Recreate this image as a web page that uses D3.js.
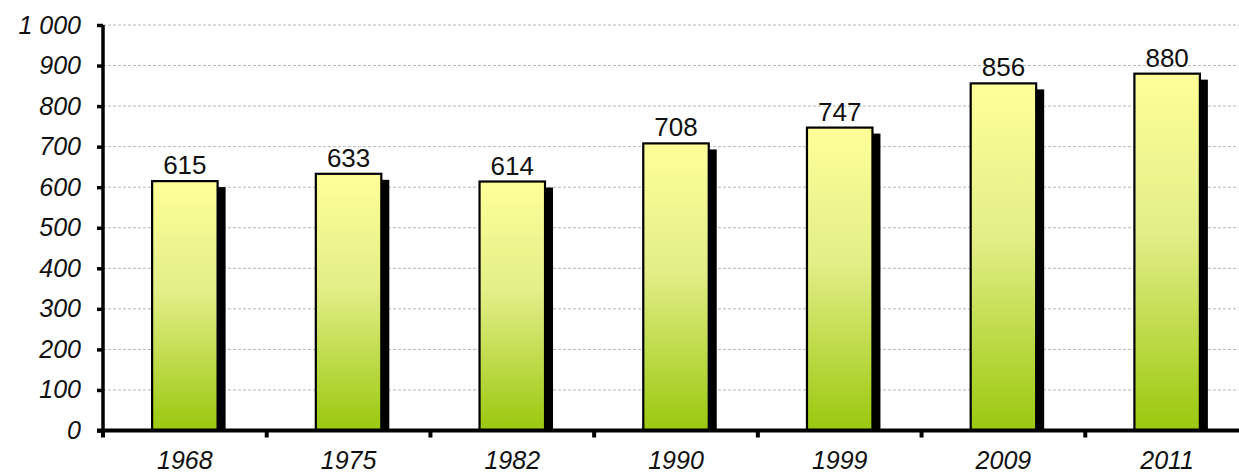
<!DOCTYPE html>
<html>
<head>
<meta charset="utf-8">
<script src="https://cdn.jsdelivr.net/npm/d3@7"></script>
<style>
  html, body { margin: 0; padding: 0; background: #fff; }
  svg { display: block; }
</style>
</head>
<body>
<svg id="chart" width="1239" height="475"></svg>
<script>
// Census years and population counts
const years = ["1968", "1975", "1982", "1990", "1999", "2009", "2011"];
const values = [615, 633, 614, 708, 747, 856, 880];
const yTicks = [0, 100, 200, 300, 400, 500, 600, 700, 800, 900, 1000];
const yTickLabels = ["0", "100", "200", "300", "400", "500", "600", "700", "800", "900", "1 000"];

const svg = d3.select("#chart");
const plotLeft = 103, plotRight = 1249, plotTop = 25, plotBottom = 430.5;
const fontFamily = "Liberation Sans, Arial, sans-serif";

const x = d3.scaleBand().domain(years).range([plotLeft, plotRight]).paddingInner(0.6).paddingOuter(0.3);
const y = d3.scaleLinear().domain([0, 1000]).range([plotBottom, plotTop]);

// Vertical gradient for bars: pale yellow on top fading to green at the base
const defs = svg.append("defs");
const grad = defs.append("linearGradient").attr("id", "barFill")
  .attr("x1", 0).attr("y1", 0).attr("x2", 0).attr("y2", 1);
grad.append("stop").attr("offset", "0%").attr("stop-color", "#ffff99");
grad.append("stop").attr("offset", "45%").attr("stop-color", "#e2ee86");
grad.append("stop").attr("offset", "100%").attr("stop-color", "#9ac80e");

// Dashed horizontal gridlines
svg.append("g").selectAll("line")
  .data(yTicks.filter(d => d > 0))
  .join("line")
  .attr("x1", plotLeft).attr("x2", 1239)
  .attr("y1", d => y(d)).attr("y2", d => y(d))
  .attr("stroke", "#b8b8b8").attr("stroke-width", 1)
  .attr("stroke-dasharray", "3,2");

// Drop shadows behind the bars
svg.append("g").selectAll("rect")
  .data(values)
  .join("rect")
  .attr("x", (d, i) => x(years[i]) + 8)
  .attr("y", d => y(d) + 6)
  .attr("width", x.bandwidth())
  .attr("height", d => plotBottom - y(d) - 6)
  .attr("fill", "#000");

// Bars
svg.append("g").selectAll("rect")
  .data(values)
  .join("rect")
  .attr("x", (d, i) => x(years[i]))
  .attr("y", d => y(d))
  .attr("width", x.bandwidth())
  .attr("height", d => plotBottom - y(d))
  .attr("fill", "url(#barFill)")
  .attr("stroke", "#000").attr("stroke-width", 2.2);

// Value labels above the bars
svg.append("g").selectAll("text")
  .data(values)
  .join("text")
  .attr("x", (d, i) => x(years[i]) + x.bandwidth() / 2)
  .attr("y", d => y(d) - 7)
  .attr("text-anchor", "middle")
  .attr("font-family", fontFamily)
  .attr("font-size", 26)
  .attr("fill", "#111")
  .text(d => d);

// Y axis
const yAxis = d3.axisLeft(y).tickValues(yTicks)
  .tickFormat((d, i) => yTickLabels[i]).tickSize(6).tickPadding(16);
const gy = svg.append("g").attr("transform", `translate(${plotLeft},0)`).call(yAxis);
gy.select(".domain").attr("stroke", "#000").attr("stroke-width", 3.5)
  .attr("d", `M0,${plotTop}V${plotBottom + 2}`);
gy.selectAll(".tick line").attr("stroke", "#000").attr("stroke-width", 3.5);
gy.selectAll(".tick text")
  .attr("font-family", fontFamily)
  .attr("font-style", "italic").attr("font-size", 25).attr("fill", "#111");

// X axis with ticks at category boundaries
const gx = svg.append("g").attr("transform", `translate(0,${plotBottom})`);
gx.append("line").attr("x1", plotLeft - 6).attr("x2", 1239)
  .attr("stroke", "#000").attr("stroke-width", 4);
const step = x.step();
const boundaries = years.map((d, i) => plotLeft + i * step);
gx.selectAll(".bt").data(boundaries).join("line")
  .attr("class", "bt")
  .attr("x1", d => d).attr("x2", d => d)
  .attr("y1", 0).attr("y2", 7)
  .attr("stroke", "#000").attr("stroke-width", 4);
gx.selectAll(".lbl").data(years).join("text")
  .attr("class", "lbl")
  .attr("x", d => x(d) + x.bandwidth() / 2)
  .attr("y", 38)
  .attr("text-anchor", "middle")
  .attr("font-family", fontFamily)
  .attr("font-style", "italic").attr("font-size", 25).attr("fill", "#111")
  .text(d => d);
</script>
</body>
</html>
